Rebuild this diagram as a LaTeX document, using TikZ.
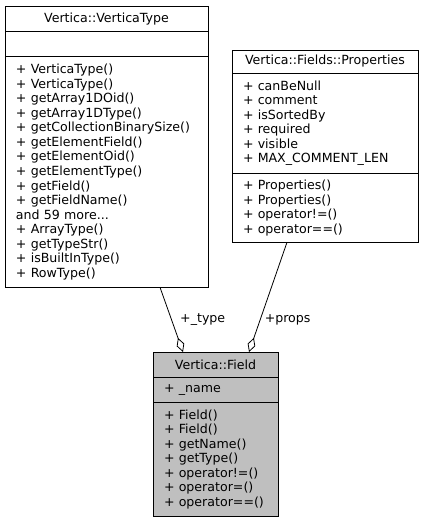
\documentclass[tikz,border=0pt]{standalone}
\usepackage{fontspec}
\setmainfont{DejaVu Sans}
\usetikzlibrary{positioning}
\usetikzlibrary{arrows.meta}

\begin{document}
\begin{tikzpicture}[x=1pt, y=1pt,
    font=\fontsize{12.6pt}{14.55pt}\selectfont,
    box/.style={draw, line width=0.9pt, outer sep=0pt, inner xsep=11pt, inner ysep=0pt},
    boxtitle/.style={box, align=center},
    boxpart/.style={box, align=left},
    aggr/.style={draw, line width=0.8pt, -{Diamond[open, length=15pt, width=8pt]}}]

    \useasboundingbox (0,0) rectangle (424,-523);

    % Vertica::VerticaType
    \node[boxtitle, anchor=north west, minimum width=203pt, minimum height=25.7pt] (vtypeT) at (5,-6) {Vertica::VerticaType};
    \node[boxpart, below=0pt of vtypeT, text width=181pt, minimum height=25pt] (vtypeA) {};
    \node[boxpart, below=0pt of vtypeA, text width=181pt, minimum height=230.6pt] (vtypeM) {%
        + VerticaType()\\
        + VerticaType()\\
        + getArray1DOid()\\
        + getArray1DType()\\
        + getCollectionBinarySize()\\
        + getElementField()\\
        + getElementOid()\\
        + getElementType()\\
        + getField()\\
        + getFieldName()\\
        and 59 more...\\
        + ArrayType()\\
        + getTypeStr()\\
        + isBuiltInType()\\
        + RowType()};

    % Vertica::Fields::Properties
    \node[boxtitle, anchor=north west, minimum width=186pt, minimum height=23pt] (propT) at (232,-50) {Vertica::Fields::Properties};
    \node[boxpart, below=0pt of propT, text width=164pt, minimum height=100.3pt] (propA) {%
        + canBeNull\\
        + comment\\
        + isSortedBy\\
        + required\\
        + visible\\
        + MAX\_COMMENT\_LEN};
    \node[boxpart, below=0pt of propA, text width=164pt, minimum height=69pt] (propM) {%
        + Properties()\\
        + Properties()\\
        + operator!=()\\
        + operator==()};

    % Vertica::Field
    \node[boxtitle, fill=gray!50, anchor=north west, minimum width=125pt, minimum height=25.7pt] (fieldT) at (153,-352) {Vertica::Field};
    \node[boxpart, fill=gray!50, below=0pt of fieldT, text width=103pt, minimum height=24.7pt] (fieldA) {+ \_name};
    \node[boxpart, fill=gray!50, below=0pt of fieldA, text width=103pt, minimum height=114pt] (fieldM) {%
        + Field()\\
        + Field()\\
        + getName()\\
        + getType()\\
        + operator!=()\\
        + operator=()\\
        + operator==()};

    % Aggregations
    \coordinate (typeS) at ([xshift=155pt]vtypeM.south west);
    \coordinate (typeE) at ([xshift=30pt]fieldT.north west);
    \coordinate (propsS) at ([xshift=55pt]propM.south west);
    \coordinate (propsE) at ([xshift=96pt]fieldT.north west);

    \draw[aggr] (typeS) -- (typeE) node[pos=0.5, right=5pt] {+\_type};
    \draw[aggr] (propsS) -- (propsE) node[pos=0.71, right=1pt] {+props};
\end{tikzpicture}
\end{document}
